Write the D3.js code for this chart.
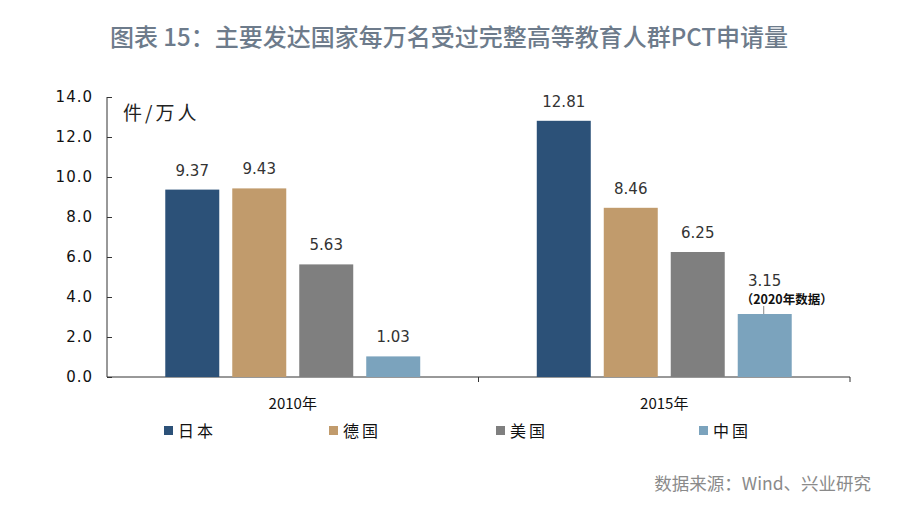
<!DOCTYPE html>
<html><head><meta charset="utf-8">
<script src="https://cdn.jsdelivr.net/npm/d3@7"></script>
<style>body{margin:0;background:#fff;}svg{display:block;}</style>
</head><body>
<script>
const years = ["2010年", "2015年"];
const countries = ["日本", "德国", "美国", "中国"];
const colors = ["#2c5178", "#c19b6c", "#7f7f7f", "#7ba3bd"];
const values2010 = [9.37, 9.43, 5.63, 1.03];
const values2015 = [12.81, 8.46, 6.25, 3.15];
const yTicks = [0, 2, 4, 6, 8, 10, 12, 14];
const title = "图表 15：主要发达国家每万名受过完整高等教育人群PCT申请量";
const unitLabel = "件/万人";
const note = "（2020年数据）";
const source = "数据来源：Wind、兴业研究";

const W = 900, H = 526;
const svg = d3.select("body").append("svg").attr("width", W).attr("height", H);
const font = "'Noto Sans CJK SC','Noto Sans',sans-serif";

const x0 = d3.scaleBand().domain(years).range([107, 850]).paddingInner(0).paddingOuter(0);
const x1 = d3.scaleBand().domain(countries).range([0, x0.bandwidth()]).paddingInner(0.194).paddingOuter(0.87);
const y = d3.scaleLinear().domain([0, 14]).range([377, 97]);

svg.append("text").attr("x", 449).attr("y", 46).attr("text-anchor", "middle")
  .attr("font-family", font).attr("font-size", 24).attr("font-weight", 500)
  .attr("fill", "#6d7b8b").text(title);

// axes
const yAxis = d3.axisLeft(y).tickValues(yTicks).tickSize(-5).tickPadding(14).tickFormat(d3.format(".1f"));
const gy = svg.append("g").attr("transform", "translate(107,0)").call(yAxis);
gy.select(".domain").attr("stroke", "#333").attr("d", "M0," + y(14) + "V" + y(0));
gy.selectAll(".tick line").attr("stroke", "#333");
gy.selectAll(".tick text").attr("font-family", "'DejaVu Sans',sans-serif").attr("font-size", 15)
  .attr("fill", "#111").attr("letter-spacing", "1px");

const gx = svg.append("g").attr("transform", "translate(0,377)");
gx.append("line").attr("x1", 107).attr("x2", 850).attr("stroke", "#333");
[x0.range()[0] + x0.bandwidth(), 850].forEach(v => {
  gx.append("line").attr("x1", v).attr("x2", v).attr("y1", 0).attr("y2", 5).attr("stroke", "#333");
});
years.forEach(yr => {
  gx.append("text").attr("x", x0(yr) + x0.bandwidth() / 2).attr("y", 32).attr("text-anchor", "middle")
    .attr("font-family", font).attr("font-size", 15).attr("fill", "#111").text(yr);
});

svg.append("text").attr("x", 123).attr("y", 120).attr("font-family", font).attr("font-size", 19)
  .attr("fill", "#222").attr("letter-spacing", "3px").text(unitLabel);

const data = [values2010, values2015];
years.forEach((yr, i) => {
  const g = svg.append("g").attr("transform", `translate(${x0(yr)},0)`);
  countries.forEach((c, j) => {
    const v = data[i][j];
    g.append("rect").attr("x", x1(c)).attr("width", x1.bandwidth())
      .attr("y", y(v)).attr("height", y(0) - y(v)).attr("fill", colors[j]);
    const isNote = (i === 1 && j === 3);
    g.append("text").attr("x", x1(c) + x1.bandwidth() / 2).attr("y", isNote ? y(v) - 28 : y(v) - 14)
      .attr("text-anchor", "middle").attr("font-family", "'DejaVu Sans',sans-serif").attr("font-size", 15)
      .attr("fill", "#333").text(v.toFixed(2));
    if (isNote) {
      g.append("text").attr("x", x1(c) + x1.bandwidth() / 2 + 22).attr("y", y(v) - 10)
        .attr("text-anchor", "middle").attr("font-family", font).attr("font-size", 12.5).attr("font-weight", 700)
        .attr("fill", "#111").text(note);
      g.append("line").attr("x1", x1(c) + x1.bandwidth() / 2 - 1).attr("x2", x1(c) + x1.bandwidth() / 2 - 1)
        .attr("y1", y(v) - 8).attr("y2", y(v)).attr("stroke", "#888");
    }
  });
});

// legend
const legendX = [164, 329, 496, 699];
countries.forEach((c, j) => {
  const g = svg.append("g").attr("transform", `translate(${legendX[j]},431)`);
  g.append("rect").attr("x", 0).attr("y", -5).attr("width", 9).attr("height", 9).attr("fill", colors[j]);
  g.append("text").attr("x", 14).attr("y", 6).attr("font-family", font).attr("font-size", 16)
    .attr("fill", "#111").attr("letter-spacing", "3px").text(c);
});

svg.append("text").attr("x", 871).attr("y", 490).attr("text-anchor", "end")
  .attr("font-family", font).attr("font-size", 17.5).attr("fill", "#8a8a8a").text(source);
</script>
</body></html>
